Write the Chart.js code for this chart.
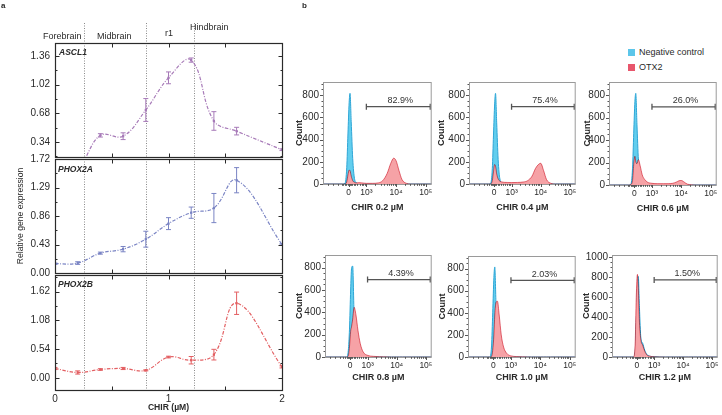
<!DOCTYPE html>
<html><head><meta charset="utf-8">
<script src="https://cdn.jsdelivr.net/npm/chart.js@4.4.1/dist/chart.umd.min.js"></script>
<style>
html,body{margin:0;padding:0;background:#fff}
body{width:722px;height:415px;position:relative;overflow:hidden;font-family:"Liberation Sans",Arial,Helvetica,sans-serif;color:#2a2a2a}
canvas{position:absolute}
.t{position:absolute;white-space:nowrap;line-height:12px;height:12px}
</style></head><body>
<canvas id="aTop" width="290" height="168" style="left:0;top:0"></canvas>
<canvas id="aMid" width="290" height="136" style="left:0;top:148px"></canvas>
<canvas id="aBot" width="290" height="151" style="left:0;top:264px"></canvas>

<div class="t" style="left:1px;top:0;font-size:8px;font-weight:bold">a</div>
<div class="t" style="left:302px;top:0;font-size:8px;font-weight:bold">b</div>
<div class="t" style="left:43px;top:30px;font-size:9px">Forebrain</div>
<div class="t" style="left:97px;top:30px;font-size:9px">Midbrain</div>
<div class="t" style="left:165px;top:27px;font-size:9px">r1</div>
<div class="t" style="left:190px;top:21px;font-size:9px">Hindbrain</div>
<div class="t" style="left:59px;top:46px;font-size:8.5px;font-weight:bold;font-style:italic">ASCL1</div>
<div class="t" style="left:58px;top:163px;font-size:8.5px;font-weight:bold;font-style:italic">PHOX2A</div>
<div class="t" style="left:58px;top:278px;font-size:8.5px;font-weight:bold;font-style:italic">PHOX2B</div>

<div style="position:absolute;left:628px;top:49px;width:7px;height:7px;background:#5cc6ea"></div>
<div style="position:absolute;left:628px;top:64px;width:7px;height:7px;background:#e8566c"></div>
<div class="t" style="left:639px;top:46px;font-size:9px">Negative control</div>
<div class="t" style="left:639px;top:61px;font-size:9px">OTX2</div>

<script>
// ================= Panel a data =================
const chirX   = [0, 0.2, 0.4, 0.6, 0.8, 1.0, 1.2, 1.4, 1.6, 2.0];
const ascl1   = [0.05, 0.05, 0.42, 0.41, 0.72, 1.10, 1.31, 0.59, 0.47, 0.25];
const ascl1Err= [0.01, 0.01, 0.02, 0.04, 0.135, 0.07, 0.025, 0.11, 0.045, 0.01];
const phox2a  = [0.14, 0.15, 0.30, 0.36, 0.51, 0.745, 0.91, 0.98, 1.40, 0.43];
const phox2aErr=[0.01, 0.02, 0.015, 0.04, 0.12, 0.09, 0.085, 0.22, 0.19, 0.01];
const phox2b  = [0.175, 0.10, 0.156, 0.175, 0.14, 0.39, 0.33, 0.435, 1.40, 0.205];
const phox2bErr=[0.02, 0.03, 0.015, 0.02, 0.01, 0.015, 0.07, 0.10, 0.21, 0.02];
const ascl1Ticks  = [0.34, 0.68, 1.02, 1.36];
const phox2aTicks = [0.00, 0.43, 0.86, 1.29, 1.72];
const phox2bTicks = [0.00, 0.54, 1.08, 1.62];
const xLabelTicksA = [0, 1, 2];
const xTickMarksA  = [0.5, 1, 1.5];
const regionBounds = [0.255, 0.8, 1.225];

// ================= Panel b data =================
const xTickPos    = [0, 0.6, 1.6, 2.6];
const xTickLabels = ['0', '10\u00B3', '10\u2074', '10\u2075'];
const binD = [-0.86,-0.2,-0.12,-0.06,-0.02,0.02,0.05,0.09,0.14,0.2,0.27,0.35,0.45,0.6,0.8,1.0,1.15,1.3,1.42,1.52,1.6,1.7,1.8,1.95,2.1,2.4,2.8];
const ctrl02 = [0,0,5,150,450,730,815,560,230,50,10,3,1,0,0,0,0,0,0,0,0,0,0,0,0,0,0];
const otx02  = [0,0,0,20,80,125,120,70,30,15,10,12,10,6,6,10,30,95,185,232,210,120,40,6,0,0,0];
const ctrl04 = [0,0,5,140,440,720,815,550,220,45,10,3,1,0,0,0,0,0,0,0,0,0,0,0,0,0,0];
const otx04  = [0,0,0,30,110,175,160,90,45,25,18,15,14,13,14,18,30,70,140,175,186,120,40,6,0,0,0];
const ctrl06 = [0,0,5,150,460,740,815,540,220,45,10,3,1,0,0,0,0,0,0,0,0,0,0,0,0,0,0];
const otx06  = [0,0,5,40,180,255,205,190,225,170,90,50,25,15,12,12,12,15,25,38,40,25,8,2,0,0,0];
const ctrl08 = [0,0,0,60,250,600,790,815,350,80,15,4,1,0,0,0,0,0,0,0,0,0,0,0,0,0,0];
const otx08  = [0,0,0,10,90,230,270,340,445,380,240,120,45,15,6,3,2,1,0,0,0,0,0,0,0,0,0];
const ctrl10 = [0,0,0,100,400,720,815,500,200,50,10,3,1,0,0,0,0,0,0,0,0,0,0,0,0,0,0];
const otx10  = [0,0,0,5,60,200,380,490,505,380,200,90,35,10,4,2,1,0,0,0,0,0,0,0,0,0,0];
const ctrl12 = [0,0,0,40,350,700,810,500,190,140,70,25,8,2,0,0,0,0,0,0,0,0,0,0,0,0,0];
const otx12  = [0,0,0,120,600,830,700,350,170,120,60,20,8,3,1,0,0,0,0,0,0,0,0,0,0,0,0];
const panelTitles = ['CHIR 0.2 \u00B5M','CHIR 0.4 \u00B5M','CHIR 0.6 \u00B5M','CHIR 0.8 \u00B5M','CHIR 1.0 \u00B5M','CHIR 1.2 \u00B5M'];
const gateLabels  = ['82.9%','75.4%','26.0%','4.39%','2.03%','1.50%'];
const gateY       = [695, 695, 695, 694, 694, 775];
const gateFrom = 0.6, gateTo = 2.75;
const countTicks   = [0,200,400,600,800];
const countTicks12 = [0,200,400,600,800,1000];

Chart.defaults.font.family = '"Liberation Sans", Arial, sans-serif';
Chart.defaults.color = '#2a2a2a';

const snap = v => Math.round(v) + 0.5;

// ---------- panel a plugin ----------
const aPlugin = {
  id: 'aDeco',
  beforeDatasetsDraw(chart, args, opts) {
    const {ctx, chartArea: a, scales: {x}} = chart;
    ctx.save();
    ctx.strokeStyle = '#8a8a8a'; ctx.lineWidth = 1; ctx.setLineDash([1, 1.5]);
    const top = opts.extendTop ? a.top - 20 : a.top;
    regionBounds.forEach(v => {
      const px = snap(x.getPixelForValue(v));
      ctx.beginPath(); ctx.moveTo(px, top); ctx.lineTo(px, a.bottom); ctx.stroke();
    });
    ctx.restore();
  },
  afterDatasetsDraw(chart) {
    const {ctx, chartArea: a, scales: {x, y}} = chart;
    const ds = chart.data.datasets[0];
    ctx.save();
    ctx.beginPath(); ctx.rect(a.left, a.top, a.right - a.left, a.bottom - a.top); ctx.clip();
    ctx.strokeStyle = ds.borderColor; ctx.lineWidth = 1;
    ds.data.forEach((p, i) => {
      const e = ds.errs[i];
      const px = x.getPixelForValue(p.x);
      const y1 = y.getPixelForValue(p.y - e), y2 = y.getPixelForValue(p.y + e);
      ctx.beginPath();
      ctx.moveTo(px, y1); ctx.lineTo(px, y2);
      ctx.moveTo(px - 2.5, y1); ctx.lineTo(px + 2.5, y1);
      ctx.moveTo(px - 2.5, y2); ctx.lineTo(px + 2.5, y2);
      ctx.stroke();
    });
    ctx.restore();
  },
  afterDraw(chart) {
    const {ctx, chartArea: a, scales: {x, y}} = chart;
    ctx.save();
    ctx.strokeStyle = '#2a2a2a'; ctx.lineWidth = 1.2;
    const l = snap(a.left), r = snap(a.right), t = snap(a.top), b = snap(a.bottom);
    ctx.strokeRect(l, t, r - l, b - t);
    ctx.lineWidth = 1;
    const majors = y.ticks.map(tk => tk.value);
    const step = majors[1] - majors[0];
    const minors = [];
    for (let k = -1; k < majors.length; k++) {
      const v = majors[0] + step * (k + 0.5);
      if (v >= y.min && v <= y.max) minors.push(v);
    }
    ctx.beginPath();
    majors.forEach(v => { const p = snap(y.getPixelForValue(v));
      ctx.moveTo(l, p); ctx.lineTo(l + 4, p); ctx.moveTo(r, p); ctx.lineTo(r - 4, p); });
    minors.forEach(v => { const p = snap(y.getPixelForValue(v));
      ctx.moveTo(l, p); ctx.lineTo(l + 2, p); ctx.moveTo(r, p); ctx.lineTo(r - 2, p); });
    xTickMarksA.forEach(v => { const p = snap(x.getPixelForValue(v));
      ctx.moveTo(p, t); ctx.lineTo(p, t + 4); ctx.moveTo(p, b); ctx.lineTo(p, b - 4); });
    ctx.stroke();
    ctx.restore();
  }
};

function makeA(id, vals, errs, color, yMin, yMax, yTicks, isTop, isBottom, yTitle) {
  return new Chart(document.getElementById(id), {
    type: 'line',
    data: { datasets: [{
      data: chirX.map((x, i) => ({x, y: vals[i]})),
      errs: errs,
      borderColor: color, backgroundColor: color, borderWidth: 1.2,
      borderDash: [3.5, 1.5, 1, 1.5], tension: 0.4, fill: false,
      pointStyle: 'rect', pointRadius: 1.6, pointBorderWidth: 0, pointBackgroundColor: color
    }]},
    options: {
      responsive: false, animation: false, events: [],
      layout: { padding: { top: isTop ? 43 : 10, bottom: isBottom ? 0 : 10, left: 0, right: 8 } },
      plugins: { legend: {display: false}, tooltip: {enabled: false}, aDeco: { extendTop: isTop } },
      scales: {
        x: { type: 'linear', min: 0, max: 2, display: isBottom,
             grid: {display: false, drawTicks: false}, border: {display: false},
             afterBuildTicks: s => { s.ticks = xLabelTicksA.map(v => ({value: v})); },
             ticks: { padding: 3, font: {size: 10}, maxRotation: 0, autoSkip: false, callback: v => String(v) },
             title: { display: true, text: 'CHIR (\u00B5M)', font: {size: 8.6, weight: 'bold'}, padding: {top: 0, bottom: 2} },
             afterFit: s => { s.height = isBottom ? 25 : 0; } },
        y: { type: 'linear', min: yMin, max: yMax,
             grid: {display: false, drawTicks: false}, border: {display: false},
             afterBuildTicks: s => { s.ticks = yTicks.map(v => ({value: v})); },
             ticks: { padding: 5, font: {size: 10}, autoSkip: false, callback: v => Number(v).toFixed(2) },
             title: { display: !!yTitle, text: yTitle || '', font: {size: 8.6}, padding: {top: 15, bottom: 0} },
             afterFit: s => { s.width = 55; } }
      }
    },
    plugins: [aPlugin]
  });
}

makeA('aTop', ascl1, ascl1Err, '#a77ab8', 0.164, 1.512, ascl1Ticks, true, false, null);
makeA('aMid', phox2a, phox2aErr, '#7a84c4', 0, 1.72, phox2aTicks, false, false, 'Relative gene expression');
makeA('aBot', phox2b, phox2bErr, '#e35f62', -0.229, 1.931, phox2bTicks, false, true, null);

// ---------- panel b ----------
const minorX = [];
[-0.69,-0.52,-0.36,-0.23,-0.18,-0.12,-0.07,-0.035,0.035,0.07,0.12,0.18,0.23].forEach(v => minorX.push(v));
[5,6,7,8,9].forEach(k => minorX.push(0.6 + Math.log10(k / 10)));
[2,3,4,5,6,7,8,9].forEach(k => { minorX.push(0.6 + Math.log10(k)); minorX.push(1.6 + Math.log10(k)); });

const bPlugin = {
  id: 'bDeco',
  beforeDatasetDraw(chart, args) {
    if (chart.data.datasets[args.index].blend) { chart.ctx.save(); chart.ctx.globalCompositeOperation = 'multiply'; }
  },
  afterDatasetDraw(chart, args) {
    if (chart.data.datasets[args.index].blend) chart.ctx.restore();
  },
  afterDraw(chart, args, opts) {
    const {ctx, chartArea: a, scales: {x, y}} = chart;
    ctx.save();
    ctx.strokeStyle = '#9a9a9a'; ctx.lineWidth = 1;
    ctx.strokeRect(a.left + 0.5, a.top + 0.5, a.right - a.left - 1, a.bottom - a.top);
    ctx.strokeStyle = '#555'; ctx.beginPath();
    y.ticks.forEach(t => { const p = snap(y.getPixelForValue(t.value));
      ctx.moveTo(a.left - 3, p); ctx.lineTo(a.left, p); });
    for (let v = 50; v < y.max; v += 100) { const p = snap(y.getPixelForValue(v));
      ctx.moveTo(a.left - 1.5, p); ctx.lineTo(a.left, p); }
    for (let v = 100; v < y.max; v += 200) { const p = snap(y.getPixelForValue(v));
      ctx.moveTo(a.left - 1.5, p); ctx.lineTo(a.left, p); }
    x.ticks.forEach(t => { const p = snap(x.getPixelForValue(t.value));
      ctx.moveTo(p, a.bottom); ctx.lineTo(p, a.bottom + 3); });
    minorX.forEach(v => { const p = snap(x.getPixelForValue(v));
      ctx.moveTo(p, a.bottom); ctx.lineTo(p, a.bottom + 1.8); });
    ctx.stroke();
    // gate label
    const g = chart.data.datasets[0].data;
    const cx = (x.getPixelForValue(g[0].x) + x.getPixelForValue(g[1].x)) / 2;
    const cy = y.getPixelForValue(g[0].y);
    ctx.fillStyle = '#333'; ctx.font = '9px "Liberation Sans", Arial, sans-serif';
    ctx.textAlign = 'center'; ctx.textBaseline = 'middle';
    ctx.fillText(opts.label, cx + 2, cy - 6);
    ctx.restore();
  }
};

// frame boxes: [left, top, right, bottom], title offset, title bottom padding
const frames = [
  [323, 77, 433, 184, 23.0, 1],
  [469, 77, 577, 184, 27.3, 1],
  [609, 77, 718, 185, 21.5, 1],
  [325, 250, 433, 357, 25.5, 4],
  [468, 251, 577, 357, 25.7, 4],
  [612, 250, 719, 357, 25.3, 4]
];
const ctrlSets = [ctrl02, ctrl04, ctrl06, ctrl08, ctrl10, ctrl12];
const otxSets  = [otx02, otx04, otx06, otx08, otx10, otx12];
const yMaxes   = [917, 917, 916, 914, 914, 1025];

frames.forEach((f, i) => {
  const [L, T, R, B, cOff, tpb] = f;
  const AW = 34, TOPPAD = 5, RP = 4, XH = 30;
  const cv = document.createElement('canvas');
  cv.width = (R - L) + AW + RP; cv.height = (B - T) + TOPPAD + XH;
  cv.style.left = (L - AW) + 'px'; cv.style.top = (T - TOPPAD) + 'px';
  document.body.appendChild(cv);
  const yt = i === 5 ? countTicks12 : countTicks;
  new Chart(cv, {
    type: 'line',
    data: { datasets: [
      { data: [{x: gateFrom, y: gateY[i]}, {x: gateTo, y: gateY[i]}],
        borderColor: '#555', borderWidth: 1.3, fill: false, tension: 0,
        pointStyle: 'line', pointRotation: 90, pointRadius: 3, pointBorderColor: '#555', pointBorderWidth: 1.3 },
      { data: binD.map((d, k) => ({x: d, y: otxSets[i][k]})), blend: true,
        borderColor: '#e46f7c', borderWidth: 1, backgroundColor: 'rgb(246,162,166)', fill: 'origin',
        cubicInterpolationMode: 'monotone', pointRadius: 0 },
      { data: binD.map((d, k) => ({x: d, y: ctrlSets[i][k]})),
        borderColor: '#2fa6d6', borderWidth: 1, backgroundColor: 'rgb(98,206,238)', fill: 'origin',
        cubicInterpolationMode: 'monotone', pointRadius: 0 }
    ]},
    options: {
      responsive: false, animation: false, events: [],
      layout: { padding: { top: TOPPAD, right: RP, left: 0, bottom: 0 } },
      plugins: { legend: {display: false}, tooltip: {enabled: false}, bDeco: { label: gateLabels[i] } },
      scales: {
        x: { type: 'linear', min: -0.86, max: 2.8,
             grid: {display: false, drawTicks: false}, border: {display: false},
             afterBuildTicks: s => { s.ticks = xTickPos.map(v => ({value: v})); },
             ticks: { padding: 4, font: {size: 8.5}, maxRotation: 0, autoSkip: false, callback: (v, k) => xTickLabels[k] },
             title: { display: true, text: panelTitles[i], font: {size: 9, weight: 'bold'}, padding: {top: 0, bottom: tpb} },
             afterFit: s => { s.height = XH; } },
        y: { type: 'linear', min: 0, max: yMaxes[i],
             grid: {display: false, drawTicks: false}, border: {display: false},
             afterBuildTicks: s => { s.ticks = yt.map(v => ({value: v})); },
             ticks: { padding: 4, font: {size: 10}, autoSkip: false, callback: v => String(v) },
             title: { display: true, text: 'Count', font: {size: 9, weight: 'bold'}, padding: {top: Math.max(0, AW - cOff - 5.4), bottom: 0} },
             afterFit: s => { s.width = AW; } }
      }
    },
    plugins: [bPlugin]
  });
});
</script>
</body></html>
